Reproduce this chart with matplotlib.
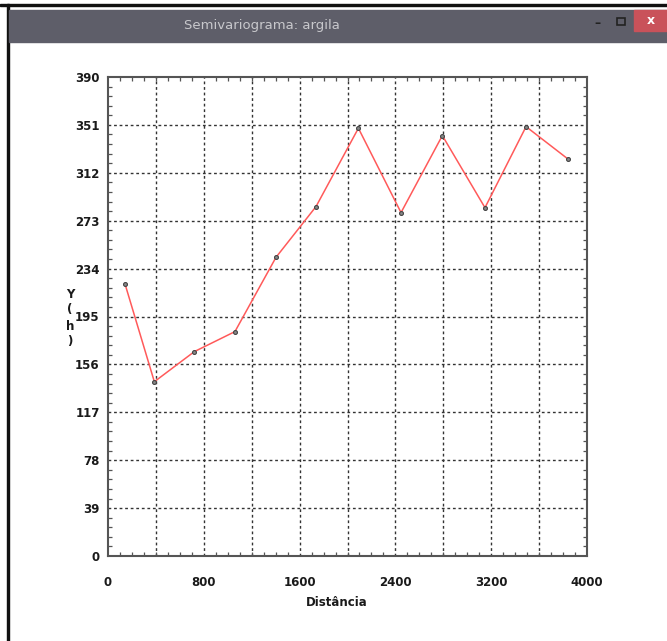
import numpy as np
import matplotlib.pyplot as plt
from matplotlib.patches import Rectangle
from matplotlib.ticker import MultipleLocator

# semivariogram values
distancia = [142, 387, 721, 1060, 1403, 1737, 2091, 2447, 2792, 3148, 3491, 3844]
gama = [221.5, 141.9, 166.4, 182.7, 243.2, 284.5, 348.3, 279.6, 342.3, 283.6, 349.6, 323.0]
xticks = [0, 800, 1600, 2400, 3200, 4000]
yticks = [0, 39, 78, 117, 156, 195, 234, 273, 312, 351, 390]

W, H = 667, 641
fig = plt.figure(figsize=(W/100, H/100), dpi=100)
fig.patch.set_facecolor('white')

# window frame
fig.patches.append(Rectangle((0, 1-6/H), 1, 2/H, transform=fig.transFigure, color='#111111', zorder=0))
fig.patches.append(Rectangle((7/W, 0), 2/W, 1-4/H, transform=fig.transFigure, color='#111111', zorder=0))
fig.patches.append(Rectangle((9/W, 1-42/H), 1, 32/H, transform=fig.transFigure, color='#5e5e69', zorder=0))
fig.patches.append(Rectangle((634/W, 1-31/H), 1, 21/H, transform=fig.transFigure, color='#c9525a', zorder=1))
fig.patches.append(Rectangle((617/W, 1-25/H), 8/W, 7/H, transform=fig.transFigure,
                             facecolor='none', edgecolor='#222222', lw=1.2, zorder=1))
fig.text(262/W, 1-26/H, 'Semivariograma: argila', color='#c8c8cc', fontsize=9.5,
         ha='center', va='center')
fig.text(597/W, 1-24/H, '–', color='#222222', fontsize=9, ha='center', va='center', fontweight='bold')
fig.text(651/W, 1-21/H, 'x', color='white', fontsize=9, ha='center', va='center', fontweight='bold')

ax = fig.add_axes([108/W, 1-556/H, 479/W, 479/H])
ax.plot(distancia, gama, color='#ff5a5a', lw=1.1, marker='o', ms=2.8,
        mfc='#888888', mec='#444444', mew=0.8, zorder=3)

ax.set_xlim(0, 4000)
ax.set_ylim(0, 390)
ax.set_xticks(xticks)
ax.set_yticks(yticks)
ax.xaxis.set_minor_locator(MultipleLocator(100))
ax.yaxis.set_minor_locator(MultipleLocator(7.8))
ax.tick_params(which='both', direction='in', top=True, right=True, color='#555555')
ax.tick_params(which='major', length=0, labelsize=8.5)
ax.tick_params(which='minor', length=3, width=0.9)
for lab in ax.get_xticklabels() + ax.get_yticklabels():
    lab.set_fontweight('bold')
    lab.set_color('#1a1a1a')
ax.tick_params(axis='x', pad=14.5)
ax.tick_params(axis='y', pad=6)

# dashed grid every 400 / 39
for gx in np.arange(400, 4000, 400):
    ax.axvline(gx, color='#333333', lw=1, ls=(0, (2, 2)), zorder=1)
for gy in yticks[1:-1]:
    ax.axhline(gy, color='#333333', lw=1, ls=(0, (2, 2)), zorder=1)

for s in ax.spines.values():
    s.set_color('#555555')
    s.set_linewidth(1.5)

fig.text(337/W, 1-602/H, 'Distância', fontsize=8.5, fontweight='bold', ha='center', va='center',
         color='#1a1a1a')
fig.text(70/W, 1-318/H, 'Y\n(\nh\n)', fontsize=8.5, fontweight='bold', ha='center', va='center',
         linespacing=1.3, color='#1a1a1a')

fig.savefig('out.png', dpi=100)
